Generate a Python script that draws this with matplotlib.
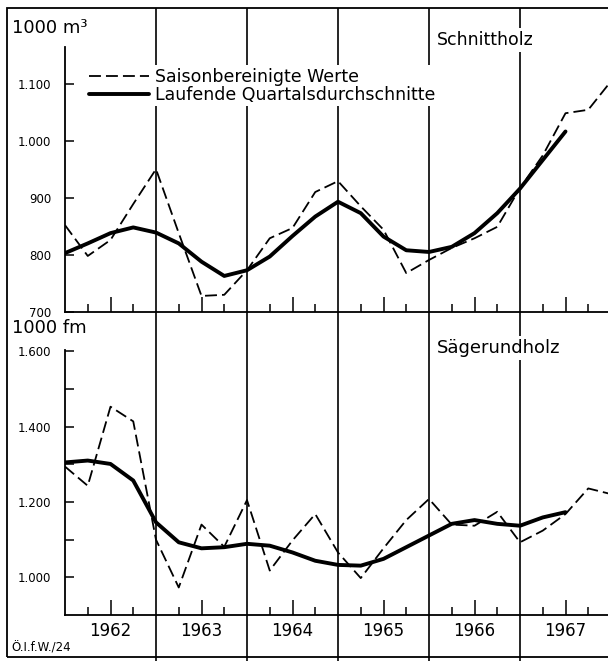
import matplotlib
matplotlib.use("Agg")
import matplotlib.pyplot as plt
from matplotlib.patches import Rectangle

# quarterly positions 1962.0 ... 1968.0
quarters = [1962 + 0.25 * i for i in range(25)]

# Schnittholz (1000 m3)
schnitt_saison = [853, 799, 827, 890, 951, 839, 729, 731, 774, 830, 848, 911, 930,
                  886, 845, 769, 792, 813, 830, 850, 918, 975, 1049, 1055, 1105]
schnitt_lauf = [804, 821, 839, 849, 840, 821, 789, 764, 774, 798, 834, 868, 894,
                874, 833, 809, 806, 815, 839, 874, 917, 967, 1017]

# Saegerundholz (1000 fm)
saege_saison = [1294, 1243, 1453, 1414, 1100, 973, 1140, 1081, 1205, 1018, 1098, 1168, 1066,
                998, 1077, 1152, 1208, 1140, 1137, 1174, 1093, 1124, 1168, 1236, 1221]
saege_lauf = [1305, 1310, 1301, 1257, 1146, 1093, 1077, 1080, 1089, 1084, 1066, 1044, 1033,
              1031, 1049, 1080, 1111, 1142, 1152, 1142, 1137, 1159, 1173]

years = [1962, 1963, 1964, 1965, 1966, 1967]
year_bounds = [1963, 1964, 1965, 1966, 1967]

top_ticks = [700, 800, 900, 1000, 1100]
top_labels = ["700", "800", "900", "1.000", "1.100"]
bot_ticks = [1000, 1100, 1200, 1300, 1400, 1500, 1600]
bot_labels = ["1.000", "", "1.200", "", "1.400", "", "1.600"]

W, H = 608, 661
fig = plt.figure(figsize=(W / 100, H / 100), dpi=100)
plt.rcParams["font.family"] = ["DejaVu Sans"]


def px_rect(left, top, right, bottom):
    return [left / W, 1 - bottom / H, (right - left) / W, (bottom - top) / H]


# background layer: frame and year separators
ax_bg = fig.add_axes([0, 0, 1, 1])
ax_bg.set_xlim(1962 - 65 / 91, 1962 + 543 / 91)
ax_bg.set_ylim(H, 0)
ax_bg.axis("off")
ax_bg.vlines(year_bounds, 8, H, colors="black", lw=1.2)
fig.patches.append(Rectangle((7 / W, 1 - 657 / H), 1.2, (657 - 8) / H,
                             transform=fig.transFigure, fill=False,
                             edgecolor="black", lw=1.3))

ax_top = fig.add_axes(px_rect(65, 47, 608, 312.5))
ax_bot = fig.add_axes(px_rect(65, 350, 608, 615))

dash = (0, (6.6, 2.8))
l1, = ax_top.plot(quarters, schnitt_saison, color="black", lw=1.3, linestyle=dash)
l2, = ax_top.plot(quarters[:len(schnitt_lauf)], schnitt_lauf, color="black", lw=2.8,
                  solid_capstyle="round", solid_joinstyle="round")
ax_bot.plot(quarters, saege_saison, color="black", lw=1.3, linestyle=dash)
ax_bot.plot(quarters[:len(saege_lauf)], saege_lauf, color="black", lw=2.8,
            solid_capstyle="round", solid_joinstyle="round")

for ax in (ax_top, ax_bot):
    ax.patch.set_visible(False)
    ax.set_xlim(1962, 1962 + 543 / 91)
    for s in ("top", "right"):
        ax.spines[s].set_visible(False)
    for s in ("left", "bottom"):
        ax.spines[s].set_linewidth(1.3)
    ax.set_xticks([y + 0.5 for y in years])
    ax.set_xticks([y + q for y in years for q in (0.25, 0.75)], minor=True)
    ax.tick_params(axis="x", which="major", direction="in", length=11, width=1.1)
    ax.tick_params(axis="x", which="minor", direction="in", length=6, width=1.1)
    ax.tick_params(axis="y", which="major", direction="in", length=6.5, width=1.1,
                   pad=10, labelsize=8.5)

ax_top.set_ylim(700, 700 + 265.5 / 0.571)
ax_top.set_yticks(top_ticks, top_labels)
ax_top.tick_params(axis="x", labelbottom=False)

ax_bot.set_ylim(900, 900 + 265 / 0.3767)
ax_bot.set_yticks(bot_ticks, bot_labels)
ax_bot.set_xticks([y + 0.5 for y in years], [str(y) for y in years])
ax_bot.tick_params(axis="x", which="major", labelsize=12, pad=5)

ax_top.legend([l1, l2], ["Saisonbereinigte Werte", "Laufende Quartalsdurchschnitte"],
              loc="upper left", bbox_to_anchor=(86 / W, 1 - 65 / H),
              bbox_transform=fig.transFigure, frameon=True, fancybox=False,
              edgecolor="none", facecolor="white", framealpha=1, borderpad=0.15,
              borderaxespad=0, handlelength=3.5, handletextpad=0.3,
              labelspacing=0.0, fontsize=12.5)


def label(x, y, s, size, **kw):
    fig.text(x / W, 1 - y / H, s, fontsize=size, va="center", ha="left", **kw)


white = dict(facecolor="white", edgecolor="none", pad=2)
label(12, 28, "1000 m³", 13)
label(12, 328, "1000 fm", 13)
label(437, 40, "Schnittholz", 12.5, bbox=white)
label(437, 348, "Sägerundholz", 13, bbox=white)
label(11, 648, "Ö.I.f.W./24", 8.5, bbox=dict(facecolor="white", edgecolor="none", pad=1))

fig.savefig("out.png", dpi=100)
plt.close(fig)
